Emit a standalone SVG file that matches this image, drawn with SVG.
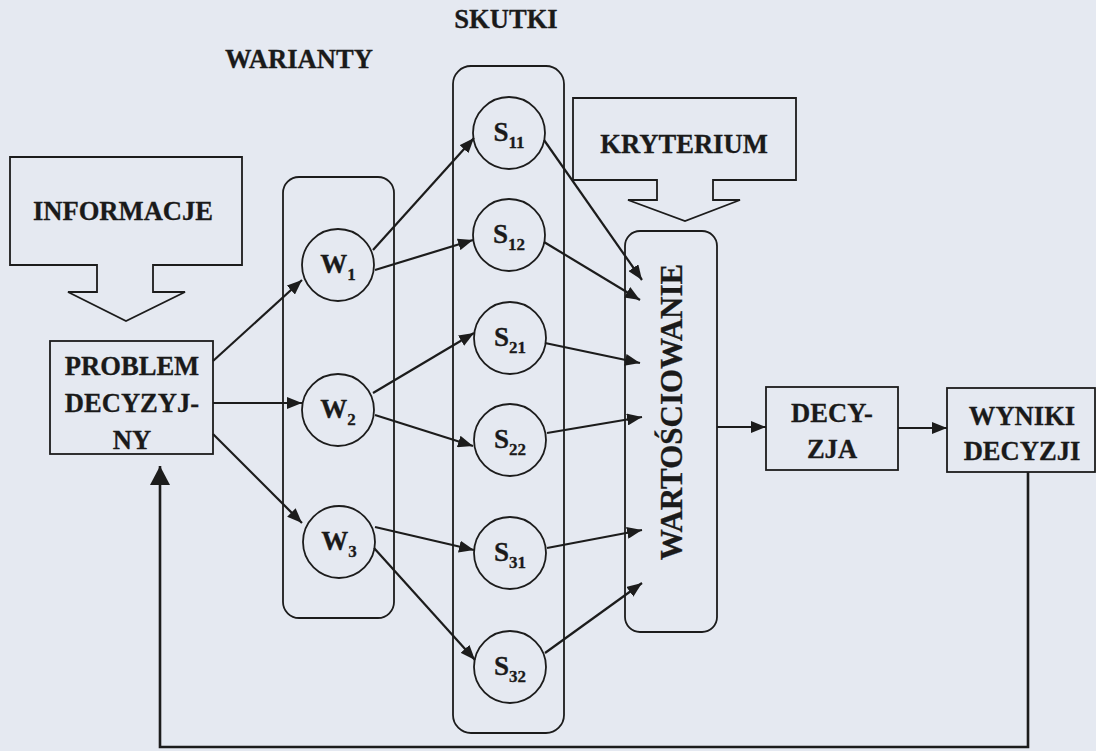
<svg xmlns="http://www.w3.org/2000/svg" width="1096" height="751" viewBox="0 0 1096 751">
<defs>
<style>
.bg{fill:#e5e9f1}
.sh{fill:none;stroke:#1c1c1c;stroke-width:1.8}
.ln{fill:none;stroke:#1c1c1c;stroke-width:2.2;marker-end:url(#ah)}
.t{font-family:"Liberation Serif","Times New Roman",serif;font-weight:bold;fill:#1a1a1a;text-anchor:middle;stroke:#1a1a1a;stroke-width:0.3}
.l{font-size:26.6px}
.n{font-size:27px}
.sub{font-size:17px}
</style>
<marker id="ah" markerUnits="userSpaceOnUse" markerWidth="16" markerHeight="12" refX="15" refY="6" orient="auto">
<path d="M0,0 L15,6 L0,12 z" fill="#1c1c1c"/>
</marker>
<marker id="ahb" markerUnits="userSpaceOnUse" markerWidth="20" markerHeight="20" refX="19" refY="10" orient="auto">
<path d="M0,0 L19,10 L0,20 z" fill="#1c1c1c"/>
</marker>
</defs>
<rect class="bg" x="0" y="0" width="1096" height="751"/>

<g id="informacje">
<path class="sh" d="M10,157 H242 V265 H153 V292 H185 L126,321 L68,292 H97 V265 H10 Z"/>
<text class="t l" x="123" y="220">INFORMACJE</text>
</g>

<g id="problem">
<rect class="sh" x="50" y="341" width="163" height="113"/>
<text class="t l" x="132" y="375">PROBLEM</text>
<text class="t l" x="132" y="412">DECYZYJ-</text>
<text class="t l" x="132" y="449">NY</text>
</g>

<g id="warianty-label"><text class="t l" x="299" y="68">WARIANTY</text></g>
<g id="skutki-label"><text class="t l" x="506" y="28">SKUTKI</text></g>

<g id="warianty">
<rect class="sh" x="283" y="177" width="111" height="441" rx="16"/>
</g>
<g id="skutki">
<rect class="sh" x="453" y="66" width="111" height="667" rx="18"/>
</g>

<g id="w1"><circle class="sh" cx="338" cy="265" r="36"/><text class="t n" x="338" y="273">W<tspan class="sub" dy="7">1</tspan></text></g>
<g id="w2"><circle class="sh" cx="338" cy="410" r="36"/><text class="t n" x="338" y="418">W<tspan class="sub" dy="7">2</tspan></text></g>
<g id="w3"><circle class="sh" cx="339" cy="542" r="36"/><text class="t n" x="339" y="550">W<tspan class="sub" dy="7">3</tspan></text></g>

<g id="s11"><circle class="sh" cx="509" cy="133" r="36"/><text class="t n" x="509" y="141">S<tspan class="sub" dy="7">11</tspan></text></g>
<g id="s12"><circle class="sh" cx="509" cy="235" r="36"/><text class="t n" x="509" y="243">S<tspan class="sub" dy="7">12</tspan></text></g>
<g id="s21"><circle class="sh" cx="510" cy="338" r="36"/><text class="t n" x="510" y="346">S<tspan class="sub" dy="7">21</tspan></text></g>
<g id="s22"><circle class="sh" cx="510" cy="440" r="36"/><text class="t n" x="510" y="448">S<tspan class="sub" dy="7">22</tspan></text></g>
<g id="s31"><circle class="sh" cx="510" cy="553" r="36"/><text class="t n" x="510" y="561">S<tspan class="sub" dy="7">31</tspan></text></g>
<g id="s32"><circle class="sh" cx="510" cy="667" r="36"/><text class="t n" x="510" y="675">S<tspan class="sub" dy="7">32</tspan></text></g>

<g id="kryterium">
<path class="sh" d="M573,98 H796 V180 H713 V200 H740 L685,221 L628,200 H657 V180 H573 Z"/>
<text class="t l" x="684" y="153">KRYTERIUM</text>
</g>

<g id="wartosciowanie">
<rect class="sh" x="625" y="231" width="92" height="401" rx="15"/>
<text class="t" font-size="31" transform="translate(682,412) rotate(-90)" x="0" y="0">WARTOŚCIOWANIE</text>
</g>

<g id="decyzja">
<rect class="sh" x="766" y="387" width="132" height="83"/>
<text class="t l" x="832" y="422">DECY-</text>
<text class="t l" x="832" y="458">ZJA</text>
</g>

<g id="wyniki">
<rect class="sh" x="947" y="388" width="148" height="84"/>
<text class="t l" x="1022" y="425">WYNIKI</text>
<text class="t l" x="1022" y="460">DECYZJI</text>
</g>

<g id="connectors">
<line class="ln" x1="213" y1="361" x2="302" y2="280"/>
<line class="ln" x1="213" y1="403" x2="302" y2="403"/>
<line class="ln" x1="213" y1="434" x2="302" y2="523"/>
<line class="ln" x1="373" y1="250" x2="474" y2="138"/>
<line class="ln" x1="375" y1="270" x2="473" y2="240"/>
<line class="ln" x1="373" y1="393" x2="474" y2="333"/>
<line class="ln" x1="375" y1="415" x2="473" y2="446"/>
<line class="ln" x1="375" y1="527" x2="474" y2="550"/>
<line class="ln" x1="374" y1="548" x2="475" y2="660"/>
<line class="ln" x1="544" y1="140" x2="642" y2="280"/>
<line class="ln" x1="544" y1="242" x2="640" y2="300"/>
<line class="ln" x1="545" y1="343" x2="640" y2="363"/>
<line class="ln" x1="547" y1="433" x2="642" y2="417"/>
<line class="ln" x1="547" y1="548" x2="642" y2="530"/>
<line class="ln" x1="545" y1="653" x2="642" y2="583"/>
<line class="ln" x1="717" y1="427" x2="766" y2="427"/>
<line class="ln" x1="898" y1="428" x2="947" y2="428"/>
<path d="M1028,472 V747 H160 V466" fill="none" stroke="#1c1c1c" stroke-width="2.6" marker-end="url(#ahb)"/>
</g>
</svg>
